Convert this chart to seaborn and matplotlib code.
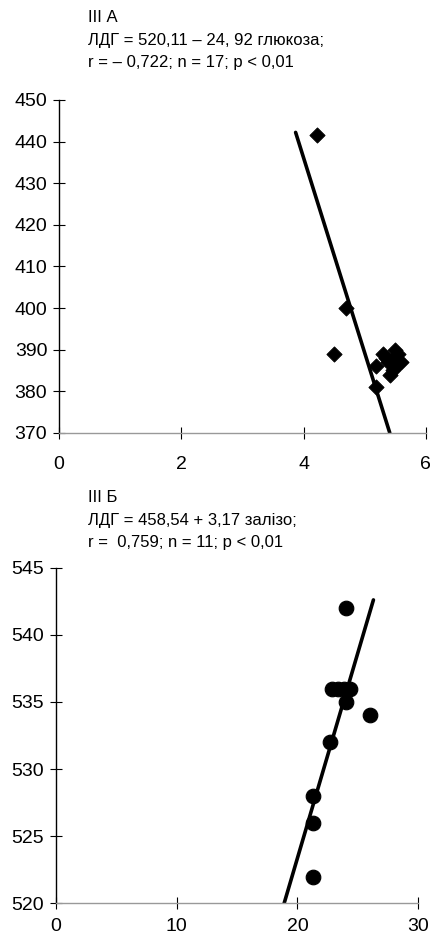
import seaborn as sns
import matplotlib.pyplot as plt
import pandas as pd

# panel III A: LDH vs glucose
glucose = [4.22, 4.70, 4.49, 5.19, 5.19, 5.30, 5.49, 5.57, 5.41, 5.44,
           5.50, 5.52, 5.35, 5.47, 5.55, 5.60, 5.38]
ldh_a = [441.5, 400, 389, 386, 381, 389, 390, 387, 384, 387,
         388, 386, 388, 385, 389, 387, 387]
line_a_x = [3.87, 5.41]
line_a_y = [442.2, 370]

# panel III Б: LDH vs iron
iron = [24.0, 22.9, 23.4, 23.9, 24.4, 24.0, 26.0, 22.7, 21.3, 21.3, 21.3]
ldh_b = [542, 536, 536, 536, 536, 535, 534, 532, 528, 526, 522]
line_b_x = [18.9, 26.3]
line_b_y = [520, 542.6]

text_a = ["III А", "ЛДГ = 520,11 – 24, 92 глюкоза;", "r = – 0,722; n = 17; p < 0,01"]
text_b = ["III Б", "ЛДГ = 458,54 + 3,17 залізо;", "r =  0,759; n = 11; p < 0,01"]

sns.set_style("white")
plt.rcParams['font.family'] = ['Liberation Sans', 'DejaVu Sans']

fig = plt.figure(figsize=(4.31, 9.43), dpi=100)
ax1 = fig.add_axes([0.137, 0.541, 0.851, 0.353])
ax2 = fig.add_axes([0.130, 0.042, 0.840, 0.356])

df_a = pd.DataFrame({"x": glucose, "y": ldh_a})
df_b = pd.DataFrame({"x": iron, "y": ldh_b})

sns.lineplot(x=line_a_x, y=line_a_y, ax=ax1, color="black", linewidth=2.6)
sns.scatterplot(data=df_a, x="x", y="y", ax=ax1, marker="D", s=60,
                color="black", edgecolor="black")
sns.lineplot(x=line_b_x, y=line_b_y, ax=ax2, color="black", linewidth=2.6)
sns.scatterplot(data=df_b, x="x", y="y", ax=ax2, marker="o", s=110,
                color="black", edgecolor="black")

ax1.set_xlim(0, 6)
ax1.set_ylim(370, 450)
ax1.set_xticks([0, 2, 4, 6])
ax1.set_yticks(range(370, 451, 10))
ax2.set_xlim(0, 30)
ax2.set_ylim(520, 545)
ax2.set_xticks([0, 10, 20, 30])
ax2.set_yticks(range(520, 546, 5))

for ax in (ax1, ax2):
    ax.set_xlabel("")
    ax.set_ylabel("")
    ax.spines["top"].set_visible(False)
    ax.spines["right"].set_visible(False)
    ax.spines["left"].set_color("black")
    ax.spines["left"].set_linewidth(1.0)
    ax.spines["bottom"].set_color("#999999")
    ax.spines["bottom"].set_linewidth(1.0)
    ax.tick_params(axis="both", bottom=True, left=True, direction="inout",
                   length=9, width=0.8, colors="black", labelsize=14)
    ax.tick_params(axis="y", pad=4)
ax1.tick_params(axis="x", pad=12)
ax2.tick_params(axis="x", pad=6)

for i, t in enumerate(text_a):
    fig.text(0.204, 0.981 - i * 0.0235, t, fontsize=12, va="center", color="black")
for i, t in enumerate(text_b):
    fig.text(0.204, 0.472 - i * 0.0235, t, fontsize=12, va="center", color="black")

fig.savefig("out.png", dpi=100)
